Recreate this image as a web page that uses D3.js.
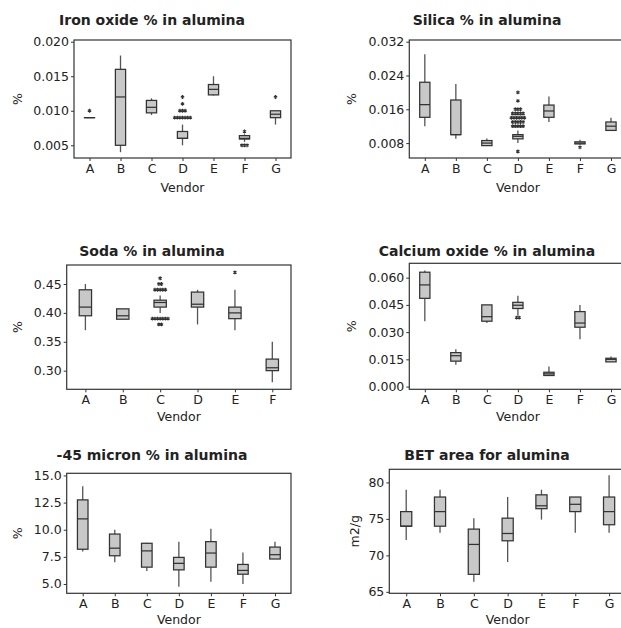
<!DOCTYPE html>
<html><head><meta charset="utf-8">
<script src="https://cdn.jsdelivr.net/npm/d3@7"></script>
<style>
html,body{margin:0;padding:0;background:#fff;}
svg{display:block;}
text{font-family:"DejaVu Sans",Verdana,sans-serif;fill:#222;}
</style></head>
<body>
<svg id="c" width="621" height="628"></svg>
<script>
// ---------- DATA ----------
const vendors7 = ["A","B","C","D","E","F","G"];
const vendors6 = ["A","B","C","D","E","F"];

// Iron oxide
const ironLo  = [0.009, 0.004, 0.0094, 0.005, 0.0122, 0.0055, 0.008];
const ironQ1  = [0.009, 0.005, 0.0097, 0.006, 0.0123, 0.0059, 0.009];
const ironMed = [0.009, 0.012, 0.0105, 0.006, 0.0131, 0.0060, 0.0095];
const ironQ3  = [0.009, 0.016, 0.0115, 0.007, 0.0138, 0.0064, 0.010];
const ironHi  = [0.009, 0.018, 0.0118, 0.008, 0.015, 0.0066, 0.010];
const ironOut = {A:[0.010], D:[0.009,0.009,0.009,0.009,0.009,0.009,0.009,0.010,0.010,0.010,0.011,0.012], F:[0.007,0.005,0.005,0.005], G:[0.012]};
const ironTicks = [0.005, 0.010, 0.015, 0.020];

// Silica
const silLo  = [0.012, 0.009, 0.0074, 0.008, 0.013, 0.0076, 0.011];
const silQ1  = [0.0141, 0.010, 0.0074, 0.009, 0.0141, 0.0078, 0.011];
const silMed = [0.0171, 0.010, 0.008, 0.0096, 0.0156, 0.008, 0.012];
const silQ3  = [0.0224, 0.0182, 0.0086, 0.010, 0.017, 0.0083, 0.013];
const silHi  = [0.029, 0.022, 0.0091, 0.011, 0.019, 0.0088, 0.014];
const silOut = {D:[0.006,0.012,0.012,0.012,0.012,0.012,0.013,0.013,0.013,0.013,0.013,0.014,0.014,0.014,0.014,0.014,0.014,0.015,0.015,0.015,0.015,0.015,0.016,0.016,0.016,0.018,0.020], F:[0.007]};
const silTicks = [0.008, 0.016, 0.024, 0.032];

// Soda
const sodaLo  = [0.37, 0.389, 0.40, 0.38, 0.37, 0.28];
const sodaQ1  = [0.395, 0.389, 0.41, 0.41, 0.39, 0.30];
const sodaMed = [0.41, 0.395, 0.418, 0.415, 0.40, 0.305];
const sodaQ3  = [0.44, 0.407, 0.422, 0.436, 0.41, 0.32];
const sodaHi  = [0.45, 0.407, 0.43, 0.44, 0.44, 0.35];
const sodaOut = {C:[0.39,0.39,0.39,0.39,0.39,0.39,0.39,0.38,0.38,0.44,0.44,0.44,0.44,0.44,0.45,0.45,0.46], E:[0.47]};
const sodaTicks = [0.30, 0.35, 0.40, 0.45];

// Calcium oxide
const caLo  = [0.036, 0.012, 0.035, 0.039, 0.006, 0.026, 0.0136];
const caQ1  = [0.0486, 0.014, 0.036, 0.043, 0.0061, 0.0327, 0.0136];
const caMed = [0.056, 0.017, 0.0385, 0.0448, 0.007, 0.035, 0.015];
const caQ3  = [0.063, 0.0187, 0.045, 0.0464, 0.0079, 0.0413, 0.0156];
const caHi  = [0.064, 0.0206, 0.045, 0.050, 0.011, 0.045, 0.0165];
const caOut = {D:[0.038,0.038]};
const caTicks = [0.000, 0.015, 0.030, 0.045, 0.060];

// -45 micron
const micLo  = [8.0, 7.0, 6.2, 4.75, 5.2, 5.0, 7.3];
const micQ1  = [8.2, 7.6, 6.55, 6.3, 6.55, 5.9, 7.3];
const micMed = [11.0, 8.3, 8.05, 6.9, 7.85, 6.25, 7.7];
const micQ3  = [12.75, 9.6, 8.75, 7.45, 8.9, 6.8, 8.4];
const micHi  = [14.0, 10.0, 8.8, 8.9, 10.1, 7.9, 8.9];
const micOut = {};
const micTicks = [5.0, 7.5, 10.0, 12.5, 15.0];

// BET area
const betLo  = [72.1, 73.1, 66.4, 69.1, 74.9, 73.1, 73.1];
const betQ1  = [74, 74, 67.4, 72, 76.4, 76, 74.2];
const betMed = [74, 76, 71.5, 73, 76.8, 77, 76];
const betQ3  = [76, 78, 73.6, 75.1, 78.3, 78, 78];
const betHi  = [79, 79, 75.1, 78, 79, 78, 81];
const betOut = {};
const betTicks = [65, 70, 75, 80];

// ---------- DRAW ----------
const svg = d3.select("#c");

function panel(o){
  const g = svg.append("g");
  const x = d3.scalePoint().domain(o.cats).range([o.x0, o.x1]).padding(0.5);
  const y = d3.scaleLinear().domain(o.domain).range([o.y1, o.y0]);
  const step = x.step();
  const bw = step * 0.33;
  const rows = o.cats.map((c,i)=>({c, lo:o.lo[i], q1:o.q1[i], med:o.med[i], q3:o.q3[i], hi:o.hi[i]}));

  // title
  g.append("text").attr("x", o.tx).attr("y", o.ty).attr("text-anchor","middle")
    .style("font-weight","bold").style("font-size","14px").text(o.title);

  // whiskers
  const wc = "#555";
  g.selectAll(".wh").data(rows).enter().append("line")
    .attr("x1", d=>x(d.c)).attr("x2", d=>x(d.c))
    .attr("y1", d=>y(d.hi)).attr("y2", d=>y(d.q3))
    .attr("stroke", wc).attr("stroke-width",1.3);
  g.selectAll(".wl").data(rows).enter().append("line")
    .attr("x1", d=>x(d.c)).attr("x2", d=>x(d.c))
    .attr("y1", d=>y(d.q1)).attr("y2", d=>y(d.lo))
    .attr("stroke", wc).attr("stroke-width",1.3);
  // boxes
  g.selectAll(".bx").data(rows).enter().append("rect")
    .attr("x", d=>x(d.c)-bw/2).attr("width", bw)
    .attr("y", d=>y(d.q3)).attr("height", d=>Math.max(0.01, y(d.q1)-y(d.q3)))
    .attr("fill","#c8c8c8").attr("stroke","#333").attr("stroke-width",1.25);
  g.selectAll(".md").data(rows).enter().append("line")
    .attr("x1", d=>x(d.c)-bw/2).attr("x2", d=>x(d.c)+bw/2)
    .attr("y1", d=>y(d.med)).attr("y2", d=>y(d.med))
    .attr("stroke","#333").attr("stroke-width",1.25);

  // outliers
  const pts = [];
  Object.keys(o.out).forEach(c=>{
    const grp = d3.group(o.out[c], v=>v);
    grp.forEach((arr, v)=>{
      const n = arr.length;
      arr.forEach((_,k)=>pts.push({c, v, off:(k-(n-1)/2)*2.6}));
    });
  });
  const sym = d3.symbol(d3.symbolAsterisk, 10);
  g.selectAll(".ol").data(pts).enter().append("path")
    .attr("d", sym)
    .attr("transform", d=>`translate(${x(d.c)+d.off},${y(d.v)})`)
    .attr("fill","none").attr("stroke","#333").attr("stroke-width",1.1);

  // frame
  g.append("rect").attr("x",o.x0).attr("y",o.y0).attr("width",o.x1-o.x0).attr("height",o.y1-o.y0)
    .attr("fill","none").attr("stroke","#333").attr("stroke-width",1.2);

  // y axis
  const ya = g.append("g").attr("transform",`translate(${o.x0},0)`)
    .call(d3.axisLeft(y).tickValues(o.ticks).tickFormat(d3.format(o.fmt)).tickSize(3).tickPadding(2));
  ya.select(".domain").remove();
  ya.selectAll("line").attr("stroke","#333");
  ya.selectAll("text").style("font-size","12.5px").attr("fill","#222").style("font-family","'DejaVu Sans',sans-serif");
  // x axis
  const xa = g.append("g").attr("transform",`translate(0,${o.y1})`)
    .call(d3.axisBottom(x).tickSize(3).tickPadding(3));
  xa.select(".domain").remove();
  xa.selectAll("line").attr("stroke","#333");
  xa.selectAll("text").style("font-size","12.5px").attr("fill","#222").style("font-family","'DejaVu Sans',sans-serif");

  // axis labels
  g.append("text").attr("x",(o.x0+o.x1)/2).attr("y",o.y1+o.vdy).attr("text-anchor","middle")
    .style("font-size","12.5px").text("Vendor");
  g.append("text").attr("transform",`translate(${o.ylx},${(o.y0+o.y1)/2}) rotate(-90)`)
    .attr("text-anchor","middle").style("font-size","12.5px").text(o.ylab);
}

panel({title:"Iron oxide % in alumina", tx:152, ty:25, cats:vendors7, lo:ironLo, q1:ironQ1, med:ironMed, q3:ironQ3, hi:ironHi, out:ironOut,
  domain:[0.00316,0.02025], ticks:ironTicks, fmt:".3f", x0:74, x1:291, y0:40, y1:158, ylab:"%", ylx:22, vdy:34});
panel({title:"Silica % in alumina", tx:487, ty:25, cats:vendors7, lo:silLo, q1:silQ1, med:silMed, q3:silQ3, hi:silHi, out:silOut,
  domain:[0.00447,0.0324], ticks:silTicks, fmt:".3f", x0:409.3, x1:626.5, y0:40, y1:158, ylab:"%", ylx:356, vdy:34});
panel({title:"Soda % in alumina", tx:152, ty:255.5, cats:vendors6, lo:sodaLo, q1:sodaQ1, med:sodaMed, q3:sodaQ3, hi:sodaHi, out:sodaOut,
  domain:[0.2677,0.4829], ticks:sodaTicks, fmt:".2f", x0:66.7, x1:291, y0:265, y1:389.3, ylab:"%", ylx:22, vdy:32});
panel({title:"Calcium oxide % in alumina", tx:487, ty:255.5, cats:vendors7, lo:caLo, q1:caQ1, med:caMed, q3:caQ3, hi:caHi, out:caOut,
  domain:[-0.0015,0.0679], ticks:caTicks, fmt:".3f", x0:409.3, x1:626.5, y0:263.3, y1:389.3, ylab:"%", ylx:356, vdy:32});
panel({title:"-45 micron % in alumina", tx:152, ty:460, cats:vendors7, lo:micLo, q1:micQ1, med:micMed, q3:micQ3, hi:micHi, out:micOut,
  domain:[4.14,15.2], ticks:micTicks, fmt:".1f", x0:66.7, x1:291, y0:473.3, y1:593.3, ylab:"%", ylx:22, vdy:31});
panel({title:"BET area for alumina", tx:487, ty:460, cats:vendors7, lo:betLo, q1:betQ1, med:betMed, q3:betQ3, hi:betHi, out:betOut,
  domain:[64.8,81.8], ticks:betTicks, fmt:"d", x0:389.3, x1:626, y0:469.3, y1:593.3, ylab:"m2/g", ylx:359, vdy:31});
</script>
</body></html>
